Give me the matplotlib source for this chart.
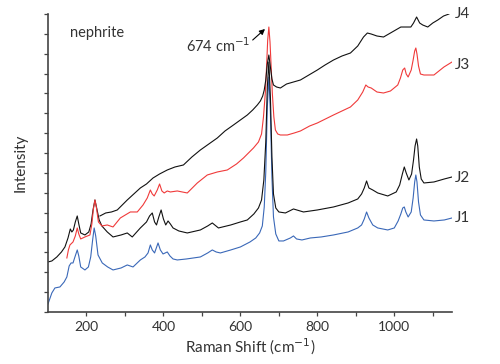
import numpy as np
import matplotlib
matplotlib.use("Agg")
import matplotlib.pyplot as plt

plt.rcParams['font.family'] = ['Lato', 'DejaVu Sans']

# Raman shift (cm-1) / intensity (arbitrary units)
j1_x = [100, 110, 118, 131, 142, 149, 155, 160, 165, 170, 176, 180, 185, 196, 205,
        211, 216, 220, 224, 230, 241, 255, 269, 290, 306, 321, 340, 352, 360, 366,
        371, 377, 386, 392, 399, 410, 417, 425, 436, 460, 496, 515, 527, 537, 548,
        575, 600, 625, 640, 650, 657, 662, 666, 670, 674, 678, 682, 686, 692, 700,
        712, 730, 738, 746, 760, 782, 810, 842, 880, 905, 915, 922, 928, 934, 944,
        957, 983, 1000, 1010, 1017, 1022, 1026, 1030, 1036, 1044, 1049, 1053, 1056,
        1059, 1063, 1068, 1077, 1103, 1130, 1150]
j1_y = [8, 19, 24, 25, 30, 35, 46, 49, 49, 55, 62, 56, 45, 42, 45,
        55, 72, 84, 76, 57, 49, 45, 42, 44, 47, 45, 52, 55, 59, 67,
        62, 59, 69, 62, 58, 60, 56, 53, 52, 53, 55, 59, 62, 60, 59,
        62, 65, 70, 74, 79, 86, 105, 140, 205, 235, 200, 135, 95, 78, 71,
        71, 74, 76, 73, 72, 74, 75, 77, 80, 84, 87, 93, 100, 94, 87,
        84, 82, 84, 91, 98, 104, 105, 100, 95, 100, 114, 130, 137,
        130, 110, 97, 92, 91, 92, 94]

j2_x = [100, 110, 123, 135, 144, 152, 158, 162, 166, 171, 176, 180, 185, 196, 206,
        212, 217, 222, 227, 233, 240, 254, 269, 290, 306, 319, 340, 356, 364, 371,
        377, 382, 388, 394, 400, 406, 412, 418, 425, 440, 462, 496, 515, 527, 543,
        575, 600, 618, 635, 647, 655, 661, 666, 670, 674, 678, 682, 686, 692, 700,
        717, 738, 764, 800, 842, 880, 905, 915, 922, 928, 934, 944, 957, 983, 1005,
        1014, 1021, 1026, 1031, 1038, 1045, 1050, 1054, 1058, 1061, 1065, 1070, 1077,
        1103, 1130, 1150]
j2_y = [50, 51, 55, 60, 65, 74, 83, 80, 82, 90, 96, 88, 79, 77, 80,
        88, 102, 112, 103, 92, 86, 80, 75, 77, 79, 75, 84, 90, 96, 99,
        90, 87, 95, 102, 93, 87, 91, 88, 84, 81, 79, 82, 86, 89, 84,
        87, 90, 92, 98, 104, 112, 132, 170, 225, 250, 215, 155, 118, 104, 100,
        99, 103, 100, 102, 105, 109, 113, 118, 124, 131, 124, 122, 119, 116, 120,
        127, 138, 145, 139, 132, 138, 152, 166, 173, 166, 145, 133, 129,
        130, 133, 135]

j3_x = [149, 153, 157, 165, 171, 176, 180, 185, 196, 209, 214, 218, 222, 226, 231,
        240, 254, 269, 288, 314, 332, 347, 358, 366, 371, 376, 384, 390, 396, 402,
        410, 418, 436, 462, 488, 514, 540, 566, 590, 608, 634, 647, 655, 660, 665,
        668, 671, 674, 677, 680, 683, 687, 691, 697, 704, 722, 740, 756, 780, 800,
        842, 886, 905, 918, 926, 932, 940, 955, 972, 990, 1009, 1016, 1022, 1027,
        1031, 1036, 1044, 1049, 1053, 1056, 1059, 1063, 1068, 1077, 1103, 1129, 1150]
j3_y = [54, 62, 67, 70, 76, 84, 78, 73, 75, 77, 88, 103, 112, 104, 90,
        86, 87, 85, 94, 100, 100, 107, 114, 122, 118, 116, 122, 128, 121, 119,
        121, 120, 121, 119, 129, 137, 140, 142, 148, 154, 164, 170, 178, 195, 220,
        245, 272, 285, 270, 245, 219, 195, 182, 178, 177, 177, 179, 181, 186, 189,
        197, 205, 212, 220, 227, 225, 224, 220, 219, 221, 227, 234, 242, 244,
        238, 235, 242, 252, 261, 264, 258, 246, 238, 237, 237, 245, 250]

j4_x = [235, 250, 265, 280, 306, 323, 340, 356, 373, 390, 410, 430, 452, 474, 496,
        518, 540, 560, 582, 600, 618, 632, 644, 652, 658, 662, 666, 670, 674, 678,
        682, 686, 694, 704, 720, 738, 756, 778, 800, 820, 842, 864, 886, 905, 920,
        930, 940, 955, 972, 990, 1017, 1030, 1043, 1050, 1058, 1066, 1074, 1087,
        1100, 1113, 1128, 1142]
j4_y = [96, 99, 100, 102, 112, 118, 124, 128, 134, 138, 142, 145, 147, 155, 162,
        168, 174, 181, 187, 192, 197, 202, 207, 211, 216, 222, 232, 248, 257, 245,
        233, 227, 225, 224, 228, 230, 232, 237, 242, 247, 252, 256, 259, 266, 275,
        279, 278, 276, 275, 279, 285, 285, 285, 289, 295, 289, 287, 285, 289, 292,
        296, 298]

series = [("J1", j1_x, j1_y, "#3a68b8", 218),
          ("J2", j2_x, j2_y, "#111111", 178),
          ("J3", j3_x, j3_y, "#f03a3a", 65),
          ("J4", j4_x, j4_y, "#111111", 14)]

fig = plt.figure(figsize=(5.0, 3.64), dpi=100)
ax = fig.add_axes([0.096, 0.143, 0.808, 0.8185])

for name, xs, ys, color, label_py in series:
    ax.plot(xs, ys, color=color, lw=0.8)
    ax.text(1157, 312 - label_py, name, fontsize=11, color="#333333",
            va="center", ha="left", clip_on=False)

ax.set_xlim(100, 1150)
ax.set_ylim(0, 298)
ax.set_xticks([200, 400, 600, 800, 1000])
ax.set_xticks([300, 500, 700, 900, 1100], minor=True)
ax.set_yticks(np.linspace(0, 298, 16))
ax.set_yticklabels([])
ax.tick_params(axis="both", which="both", direction="out", length=3,
               width=0.9, color="#444444", labelsize=10, labelcolor="#333333")

for side in ["top", "right"]:
    ax.spines[side].set_visible(False)
for side in ["left", "bottom"]:
    ax.spines[side].set_color("#444444")
    ax.spines[side].set_linewidth(1.2)

ax.set_xlabel("Raman Shift (cm$^{-1}$)", fontsize=11, color="#333333", labelpad=3)
ax.set_ylabel("Intensity", fontsize=11, color="#333333", labelpad=8)

ax.text(157, 279, "nephrite", fontsize=10.5, color="#333333", va="center")
ax.text(627, 266, "674 cm$^{-1}$", fontsize=10.5, color="#333333",
        va="center", ha="right")
ax.annotate("", xy=(664, 283), xytext=(632, 272),
            arrowprops=dict(arrowstyle="-|>", color="black", lw=0.8,
                            mutation_scale=8, shrinkA=0, shrinkB=0))

fig.savefig("out.png", dpi=100)
